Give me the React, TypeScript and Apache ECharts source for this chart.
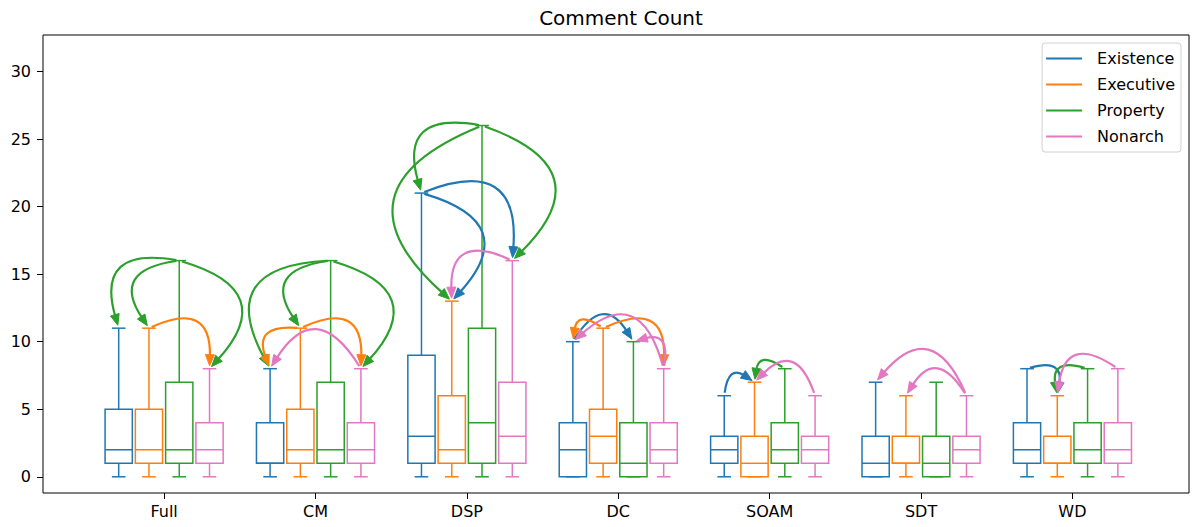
import React, { useEffect, useRef } from "react";
import * as echarts from "echarts";

// Categories along the x axis
const categories = ["Full", "CM", "DSP", "DC", "SOAM", "SDT", "WD"];
const seriesNames = ["Existence", "Executive", "Property", "Nonarch"];

// Box statistics per category: [lower whisker, Q1, median, Q3, upper whisker]
const existence = [
  [0, 1, 2, 5, 11], [0, 1, 1, 4, 8], [0, 1, 3, 9, 21], [0, 0, 2, 4, 10],
  [0, 1, 2, 3, 6], [0, 0, 1, 3, 7], [0, 1, 2, 4, 8],
];
const executive = [
  [0, 1, 2, 5, 11], [0, 1, 2, 5, 11], [0, 1, 2, 6, 13], [0, 1, 3, 5, 11],
  [0, 0, 1, 3, 7], [0, 1, 1, 3, 6], [0, 1, 1, 3, 6],
];
const property = [
  [0, 1, 2, 7, 16], [0, 1, 2, 7, 16], [0, 1, 4, 11, 26], [0, 0, 1, 4, 10],
  [0, 1, 2, 4, 8], [0, 0, 1, 3, 7], [0, 1, 2, 4, 8],
];
const nonarch = [
  [0, 1, 2, 4, 8], [0, 1, 2, 4, 8], [0, 1, 3, 7, 16], [0, 1, 2, 4, 8],
  [0, 1, 2, 3, 6], [0, 1, 2, 3, 6], [0, 1, 2, 4, 8],
];

// Influence arrows: [category, from, to] — drawn between upper whisker caps
const influences = [
  ["Full", "Property", "Existence"], ["Full", "Property", "Executive"],
  ["Full", "Property", "Nonarch"], ["Full", "Executive", "Nonarch"],
  ["CM", "Property", "Existence"], ["CM", "Property", "Executive"],
  ["CM", "Property", "Nonarch"], ["CM", "Executive", "Existence"],
  ["CM", "Executive", "Nonarch"], ["CM", "Nonarch", "Existence"],
  ["DSP", "Property", "Existence"], ["DSP", "Property", "Executive"],
  ["DSP", "Property", "Nonarch"], ["DSP", "Existence", "Executive"],
  ["DSP", "Existence", "Nonarch"], ["DSP", "Nonarch", "Executive"],
  ["DC", "Existence", "Property"], ["DC", "Executive", "Existence"],
  ["DC", "Executive", "Nonarch"], ["DC", "Nonarch", "Existence"],
  ["DC", "Nonarch", "Property"],
  ["SOAM", "Existence", "Executive"], ["SOAM", "Property", "Executive"],
  ["SOAM", "Nonarch", "Executive"],
  ["SDT", "Nonarch", "Existence"], ["SDT", "Nonarch", "Executive"],
  ["WD", "Existence", "Executive"], ["WD", "Property", "Executive"],
  ["WD", "Nonarch", "Executive"],
];

const xTicks = [0, 1, 2, 3, 4, 5, 6];
const yTicks = [0, 5, 10, 15, 20, 25, 30];

const boxStats = [existence, executive, property, nonarch];
const COLORS = ["#1f77b4", "#ff7f0e", "#2ca02c", "#e377c2"];
const OFFSETS = [-0.3, -0.1, 0.1, 0.3];
const BOX_W = 0.18;
const CAP_W = 0.09;
const RAD = 0.8;
const SHRINK = 3;
const HEAD_LEN = 11;
const HEAD_HALF = 4.5;
const FONT = "DejaVu Sans";

export default function App() {
  const ref = useRef<HTMLDivElement>(null);

  useEffect(() => {
    if (!ref.current) return;
    const chart = echarts.init(ref.current, null, { renderer: "svg" });

    const boxSeries = seriesNames.map((name, s) => ({
      type: "custom",
      name,
      color: COLORS[s],
      itemStyle: { color: COLORS[s] },
      z: 2,
      data: boxStats[s].map((st, g) => [g, ...st]),
      encode: { x: 0, y: [1, 2, 3, 4, 5] },
      renderItem: (params: any, api: any) => {
        const x = api.value(0) + OFFSETS[s];
        const low = api.value(1), q1 = api.value(2), med = api.value(3);
        const q3 = api.value(4), high = api.value(5);
        const cx = api.coord([x, 0])[0];
        const y = (v: number) => api.coord([x, v])[1];
        const half = api.size([BOX_W, 0])[0] / 2;
        const capHalf = api.size([CAP_W, 0])[0] / 2;
        const style = { stroke: COLORS[s], lineWidth: 1.5, fill: "none" };
        const hline = (v: number, h: number) => ({
          type: "line",
          shape: { x1: cx - h, y1: y(v), x2: cx + h, y2: y(v) },
          style,
        });
        return {
          type: "group",
          children: [
            { type: "line", shape: { x1: cx, y1: y(q3), x2: cx, y2: y(high) }, style },
            { type: "line", shape: { x1: cx, y1: y(q1), x2: cx, y2: y(low) }, style },
            hline(high, capHalf),
            hline(low, capHalf),
            {
              type: "rect",
              shape: { x: cx - half, y: y(q3), width: half * 2, height: y(q1) - y(q3) },
              style,
            },
            hline(med, half),
          ],
        };
      },
    }));

    const arrowData = influences.map(([cat, from, to]) => {
      const g = categories.indexOf(cat);
      const fi = seriesNames.indexOf(from);
      const ti = seriesNames.indexOf(to);
      return [g, fi, ti, boxStats[fi][g][4], boxStats[ti][g][4]];
    });

    const arrowSeries = {
      type: "custom",
      name: "influence",
      z: 5,
      silent: true,
      data: arrowData,
      encode: { x: 0, y: [3, 4] },
      renderItem: (params: any, api: any) => {
        const g = api.value(0);
        const fi = api.value(1);
        const ti = api.value(2);
        const p1 = api.coord([g + OFFSETS[fi], api.value(3)]);
        const p2 = api.coord([g + OFFSETS[ti], api.value(4)]);
        const dx = p2[0] - p1[0];
        const dy = p2[1] - p1[1];
        const sgn = dx >= 0 ? 1 : -1;
        // arc bends upward, control point of a quadratic curve
        const cpx = (p1[0] + p2[0]) / 2 + RAD * sgn * dy;
        const cpy = (p1[1] + p2[1]) / 2 - RAD * Math.abs(dx);
        const norm = (vx: number, vy: number) => {
          const l = Math.hypot(vx, vy) || 1;
          return [vx / l, vy / l];
        };
        const u0 = norm(cpx - p1[0], cpy - p1[1]);
        const u1 = norm(p2[0] - cpx, p2[1] - cpy);
        const sx = p1[0] + SHRINK * u0[0];
        const sy = p1[1] + SHRINK * u0[1];
        const tx = p2[0] - SHRINK * u1[0];
        const ty = p2[1] - SHRINK * u1[1];
        const bx = tx - HEAD_LEN * u1[0];
        const by = ty - HEAD_LEN * u1[1];
        const nx = -u1[1], ny = u1[0];
        const color = COLORS[fi];
        return {
          type: "group",
          children: [
            {
              type: "bezierCurve",
              shape: { x1: sx, y1: sy, x2: bx + u1[0] * 2, y2: by + u1[1] * 2, cpx1: cpx, cpy1: cpy },
              style: { stroke: color, lineWidth: 2.2, fill: "none" },
            },
            {
              type: "polygon",
              shape: {
                points: [
                  [tx, ty],
                  [bx + HEAD_HALF * nx, by + HEAD_HALF * ny],
                  [bx - HEAD_HALF * nx, by - HEAD_HALF * ny],
                ],
              },
              style: { fill: color, stroke: color, lineWidth: 1 },
            },
          ],
        };
      },
    };

    chart.setOption({
      animation: false,
      backgroundColor: "#fff",
      textStyle: { fontFamily: FONT },
      title: {
        text: "Comment Count",
        left: 616,
        textAlign: "center",
        top: 3,
        textStyle: { fontFamily: FONT, fontSize: 20, fontWeight: "normal", color: "#000" },
      },
      legend: {
        data: seriesNames.map((n) => ({ name: n, icon: "rect" })),
        orient: "vertical",
        right: 15,
        top: 43,
        itemWidth: 36,
        itemHeight: 2,
        itemGap: 9,
        padding: [7, 6, 7, 4],
        borderColor: "#d0d0d0",
        borderWidth: 1,
        borderRadius: 3,
        backgroundColor: "#fff",
        selectedMode: false,
        textStyle: {
          fontFamily: FONT,
          fontSize: 16,
          lineHeight: 17,
          color: "#000",
          padding: [0, 0, 0, 10],
        },
      },
      grid: {
        left: 43,
        right: 7,
        top: 35,
        bottom: 34,
        show: true,
        borderColor: "#000",
        borderWidth: 1,
        backgroundColor: "transparent",
      },
      xAxis: {
        type: "value",
        position: "bottom",
        min: -0.8,
        max: 6.77,
        splitLine: { show: false },
        axisLine: { show: false, onZero: false },
        axisTick: { show: true, customValues: xTicks, length: 6, lineStyle: { color: "#000" } },
        axisLabel: {
          customValues: xTicks,
          formatter: (v: number) => categories[Math.round(v)] ?? "",
          fontFamily: FONT,
          fontSize: 16,
          color: "#000",
          margin: 10,
        },
      },
      yAxis: {
        type: "value",
        position: "left",
        min: -1.2,
        max: 32.7,
        splitLine: { show: false },
        axisLine: { show: false, onZero: false },
        axisTick: { show: true, customValues: yTicks, length: 6, lineStyle: { color: "#000" } },
        axisLabel: {
          customValues: yTicks,
          fontFamily: FONT,
          fontSize: 16,
          color: "#000",
          margin: 12,
        },
      },
      series: [...boxSeries, arrowSeries],
    });

    return () => chart.dispose();
  }, []);

  return (
    <div
      ref={ref}
      style={{ position: "fixed", left: 0, top: 0, width: 1196, height: 527 }}
    />
  );
}
